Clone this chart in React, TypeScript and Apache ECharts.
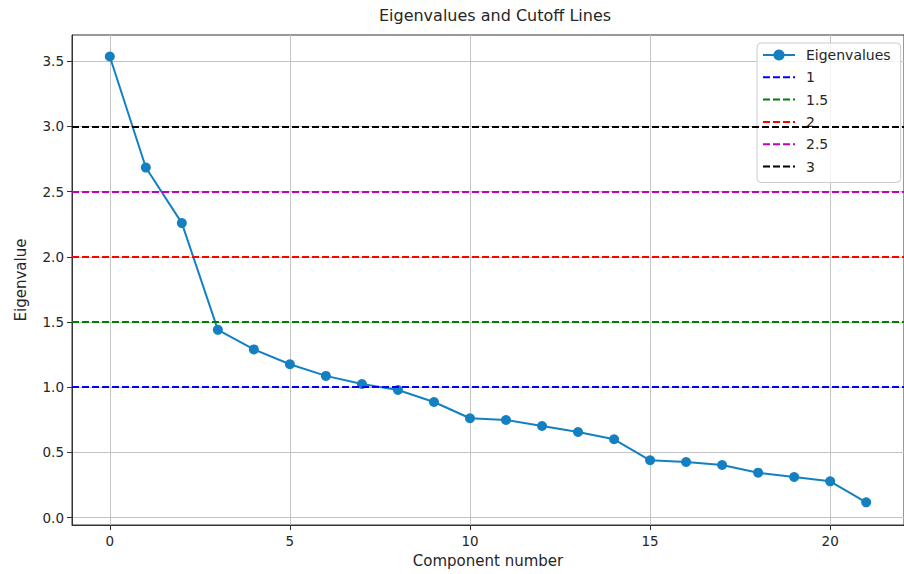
import React, { useEffect, useRef } from "react";
import * as echarts from "echarts";

const componentNumbers = [0, 1, 2, 3, 4, 5, 6, 7, 8, 9, 10, 11, 12, 13, 14, 15, 16, 17, 18, 19, 20, 21];
const eigenvalues = [3.535, 2.684, 2.258, 1.44, 1.29, 1.176, 1.087, 1.025, 0.979, 0.887, 0.762, 0.749, 0.703, 0.657, 0.601, 0.44, 0.427, 0.404, 0.345, 0.312, 0.279, 0.118];
const cutoffNames = ["1", "1.5", "2", "2.5", "3"];
const cutoffValues = [1, 1.5, 2, 2.5, 3];
const cutoffColors = ["#0000ff", "#008000", "#ff0000", "#bf00bf", "#000000"];
const xTicks = [0, 5, 10, 15, 20];
const yTicks = [0, 0.5, 1, 1.5, 2, 2.5, 3, 3.5];

const FONT = "DejaVu Sans";
const LINE_COLOR = "#1480c2";
const TEXT_COLOR = "#262626";

export default function App() {
  const ref = useRef<HTMLDivElement>(null);
  useEffect(() => {
    if (!ref.current) return;
    const chart = echarts.init(ref.current, undefined, { renderer: "svg" });
    const cutoffSeries = cutoffValues.map((v, i) => ({
      type: "line",
      name: cutoffNames[i],
      data: [],
      symbol: "none",
      lineStyle: { color: cutoffColors[i], type: [7, 3], width: 2 },
      itemStyle: { color: cutoffColors[i] },
      z: 3,
      markLine: {
        silent: true,
        symbol: "none",
        label: { show: false },
        lineStyle: { color: cutoffColors[i], type: [7, 3], width: 2 },
        data: [{ yAxis: v }],
      },
    }));
    chart.setOption({
      animation: false,
      textStyle: { fontFamily: FONT },
      title: {
        text: "Eigenvalues and Cutoff Lines",
        left: 490,
        top: 2,
        textAlign: "center",
        textStyle: { fontFamily: FONT, fontSize: 16, fontWeight: "normal", color: TEXT_COLOR },
      },
      grid: {
        left: 72,
        top: 35,
        right: -5,
        bottom: 49,
        show: true,
        borderColor: "#333",
        borderWidth: 1,
        containLabel: false,
      },
      legend: {
        orient: "vertical",
        left: 757,
        top: 43,
        padding: [4, 10, 8, 5],
        itemGap: 6.3,
        itemWidth: 32,
        itemHeight: 14,
        backgroundColor: "rgba(255,255,255,0.8)",
        borderColor: "#cccccc",
        borderWidth: 1,
        borderRadius: 4,
        textStyle: {
          fontFamily: FONT,
          fontSize: 14,
          lineHeight: 16,
          color: TEXT_COLOR,
          padding: [0, 0, 0, 6],
        },
        data: [
          { name: "Eigenvalues" },
          ...cutoffNames.map((n) => ({
            name: n,
            itemStyle: { color: "rgba(0,0,0,0)", borderWidth: 0, opacity: 0 },
          })),
        ],
      },
      xAxis: {
        type: "value",
        min: -1.05,
        max: 22.05,
        name: "Component number",
        nameLocation: "middle",
        nameGap: 28,
        nameTextStyle: { fontFamily: FONT, fontSize: 15, color: TEXT_COLOR },
        axisLine: { show: true, onZero: false, lineStyle: { color: "#333", width: 1 } },
        axisTick: { show: true, length: 5, customValues: xTicks, lineStyle: { color: "#333" } },
        axisLabel: {
          customValues: xTicks,
          fontFamily: FONT,
          fontSize: 13.5,
          color: TEXT_COLOR,
          margin: 9,
        },
        splitLine: { show: true, lineStyle: { color: "#c4c4c4", width: 1 } },
      },
      yAxis: {
        type: "value",
        min: -0.056,
        max: 3.70,
        name: "Eigenvalue",
        nameLocation: "middle",
        nameGap: 44,
        nameRotate: 90,
        nameTextStyle: { fontFamily: FONT, fontSize: 15, color: TEXT_COLOR },
        axisLine: { show: true, onZero: false, lineStyle: { color: "#333", width: 1 } },
        axisTick: { show: true, length: 5, customValues: yTicks, lineStyle: { color: "#333" } },
        axisLabel: {
          customValues: yTicks,
          fontFamily: FONT,
          fontSize: 13.5,
          color: TEXT_COLOR,
          margin: 8,
          formatter: (v: number) => v.toFixed(1),
        },
        splitLine: { show: true, lineStyle: { color: "#c4c4c4", width: 1 } },
      },
      series: [
        {
          type: "line",
          name: "Eigenvalues",
          data: componentNumbers.map((c, i) => [c, eigenvalues[i]]),
          symbol: "circle",
          symbolSize: 10,
          showSymbol: true,
          lineStyle: { color: LINE_COLOR, width: 2 },
          itemStyle: { color: LINE_COLOR },
          z: 2,
        },
        ...cutoffSeries,
      ],
    });
    return () => chart.dispose();
  }, []);
  return (
    <div
      ref={ref}
      style={{ position: "fixed", left: 0, top: 0, width: 904, height: 574, background: "#fff" }}
    />
  );
}
